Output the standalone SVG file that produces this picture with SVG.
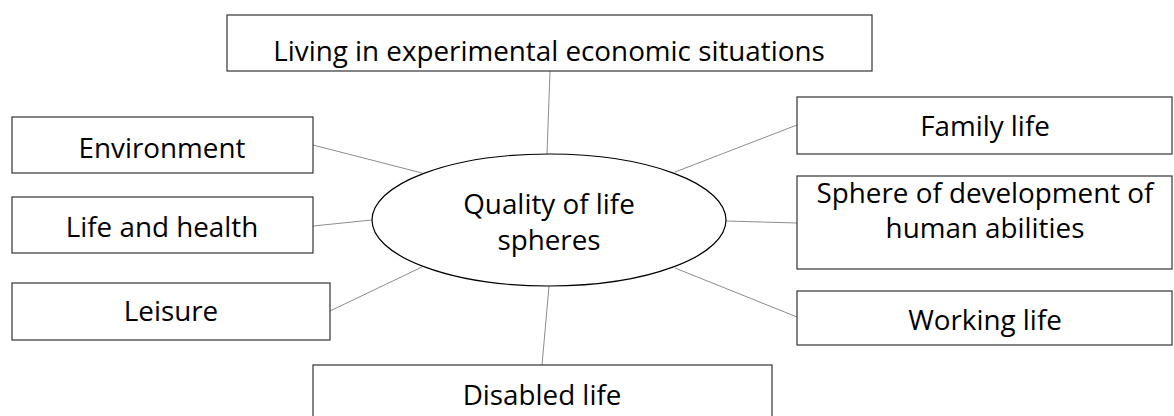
<svg xmlns="http://www.w3.org/2000/svg" width="1174" height="416" viewBox="0 0 1174 416">
<style>
.box{fill:#fff;stroke:#333;stroke-width:1.2}
.ell{fill:#fff;stroke:#000;stroke-width:1.2}
.con{stroke:#8c8c8c;stroke-width:1;fill:none}
text{font-family:"Open Sans","Noto Sans",sans-serif;font-size:27.8px;fill:#000;text-anchor:middle}
</style>
<rect width="1174" height="416" fill="#fff"/>
<g id="connectors">
<line class="con" x1="550" y1="71" x2="547" y2="154"/>
<line class="con" x1="313" y1="145" x2="422" y2="173"/>
<line class="con" x1="313" y1="226" x2="372" y2="220"/>
<line class="con" x1="330" y1="311" x2="422" y2="267"/>
<line class="con" x1="549" y1="286" x2="542" y2="365"/>
<line class="con" x1="675" y1="172" x2="797" y2="125"/>
<line class="con" x1="726" y1="221" x2="797" y2="223"/>
<line class="con" x1="675" y1="268" x2="797" y2="317"/>
</g>
<g id="top">
<rect class="box" x="227" y="15" width="645" height="56"/>
<text x="549" y="61">Living in experimental economic situations</text>
</g>
<g id="environment">
<rect class="box" x="12" y="117" width="301" height="56"/>
<text x="162" y="158">Environment</text>
</g>
<g id="lifehealth">
<rect class="box" x="12" y="197" width="301" height="56"/>
<text x="162" y="237">Life and health</text>
</g>
<g id="leisure">
<rect class="box" x="12" y="283" width="318" height="57"/>
<text x="171" y="321">Leisure</text>
</g>
<g id="center">
<ellipse class="ell" cx="549" cy="220" rx="177" ry="66"/>
<text x="549" y="214">Quality of life</text>
<text x="549" y="250">spheres</text>
</g>
<g id="family">
<rect class="box" x="797" y="97" width="375" height="57"/>
<text x="985" y="136">Family life</text>
</g>
<g id="sphere">
<rect class="box" x="797" y="176" width="375" height="93"/>
<text x="985" y="203">Sphere of development of</text>
<text x="985" y="238">human abilities</text>
</g>
<g id="working">
<rect class="box" x="797" y="291" width="375" height="54"/>
<text x="985" y="330">Working life</text>
</g>
<g id="disabled">
<rect class="box" x="313" y="365" width="459" height="60"/>
<text x="542" y="405">Disabled life</text>
</g>
</svg>
